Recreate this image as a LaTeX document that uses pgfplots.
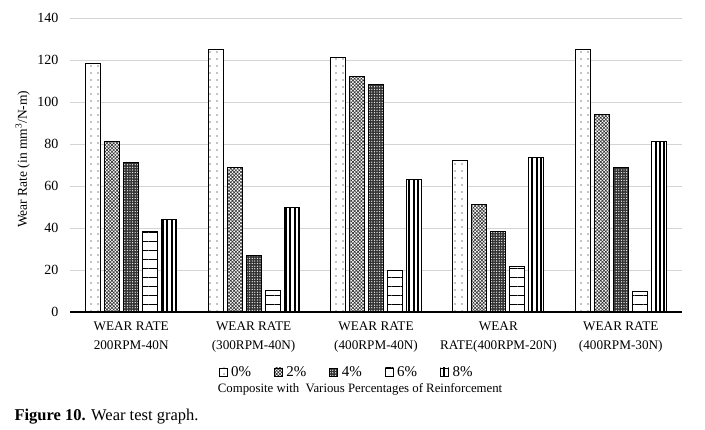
\documentclass[border=0pt]{standalone}
\usepackage{pgfplots}
\pgfplotsset{compat=1.18}
\usetikzlibrary{patterns.meta}
\usepackage{fontspec}
\setmainfont{Liberation Serif}

\pgfplotstableread{
x p0 p2 p4 p6 p8
0 118.5 81 71 38.5 44
1 125 69 27 10.5 50
2 121 112 108.5 20 63
3 72 51 38.5 21.5 73.5
4 125 94 69 10 81
}\weartable

\tikzset{
  bar0/.style={draw=black, line width=0.9bp, fill=white,
    postaction={pattern={Dots[distance=7bp, radius=0.55bp]}, pattern color=black}},
  bar2/.style={draw=black, line width=0.9bp, fill=white,
    postaction={pattern={Hatch[distance=2.4bp, angle=45, line width=0.6bp]}, pattern color=black!80}},
  bar4/.style={draw=black, line width=0.9bp, fill=black!80,
    postaction={pattern={Dots[distance=2.6bp, radius=0.65bp]}, pattern color=white}},
  bar6/.style={draw=black, line width=0.9bp, fill=white,
    postaction={pattern={Lines[angle=0, distance=9bp, line width=0.9bp]}, pattern color=black}},
  bar8/.style={draw=black, line width=0.9bp, fill=white,
    postaction={pattern={Lines[angle=90, distance=4.4bp, line width=1.9bp]}, pattern color=black}},
}

\begin{document}
\begin{tikzpicture}
\useasboundingbox (-70bp,-118bp) rectangle (635bp,312bp);
\begin{axis}[
  scale only axis,
  width=612bp, height=294bp,
  xmin=-0.5, xmax=4.5,
  ymin=0, ymax=140,
  ytick={0,20,...,140},
  xtick={0,1,2,3,4},
  xticklabels={{WEAR RATE\\200RPM-40N},{WEAR RATE\\(300RPM-40N)},{WEAR RATE\\(400RPM-40N)},{WEAR\\RATE(400RPM-20N)},{WEAR RATE\\(400RPM-30N)}},
  xticklabel style={align=center, font=\fontsize{13.2bp}{19.5bp}\selectfont, yshift=-6bp},
  yticklabel style={font=\fontsize{14bp}{16bp}\selectfont, xshift=-8bp},
  /pgf/number format/assume math mode=true,
  major tick length=0pt,
  axis line style={draw=none},
  ymajorgrids,
  grid style={draw=black!17, line width=0.9bp},
  ybar=4bp,
  bar width=15bp,
  ylabel={Wear Rate (in mm\textsuperscript{3}/N-m)},
  ylabel style={font=\fontsize{13.5bp}{15bp}\selectfont, at={(axis description cs:-0.06,0.52)}, anchor=south},
  legend columns=5,
  legend style={draw=none, fill=none, font=\fontsize{15bp}{17bp}\selectfont,
    at={(axis description cs:0.452,-0.204)}, anchor=center,
    /tikz/every odd column/.append style={column sep=1.5bp},
    /tikz/every even column/.append style={column sep=21bp}},
  legend image code/.code={\draw[#1] (0bp,-4bp) rectangle (8bp,4bp);},
  clip=false,
]
\addplot[bar0] table[x=x, y=p0] {\weartable};
\addplot[bar2] table[x=x, y=p2] {\weartable};
\addplot[bar4] table[x=x, y=p4] {\weartable};
\addplot[bar6] table[x=x, y=p6] {\weartable};
\addplot[bar8] table[x=x, y=p8] {\weartable};
\legend{0\%, 2\%, 4\%, 6\%, 8\%}
\draw[black, line width=1.2bp] (axis cs:-0.5,0) -- (axis cs:4.5,0);
\node[font=\fontsize{12.8bp}{15bp}\selectfont, anchor=center]
  at (axis description cs:0.474,-0.262) {Composite with\ \ Various Percentages of Reinforcement};
\end{axis}
\node[anchor=base west, font=\fontsize{16.5bp}{19bp}\selectfont] at (-59bp,-108bp)
  {\textbf{Figure 10.} Wear test graph.};
\end{tikzpicture}
\end{document}
